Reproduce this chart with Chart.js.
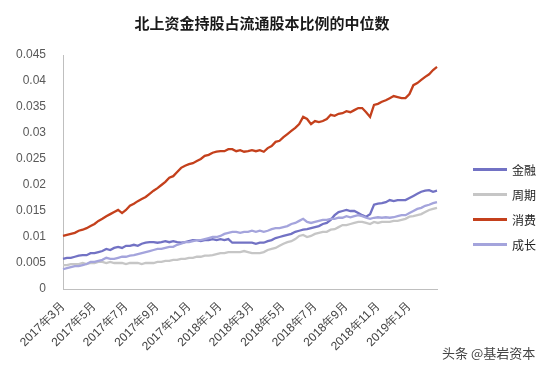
<!DOCTYPE html>
<html>
<head>
<meta charset="utf-8">
<script src="https://cdn.jsdelivr.net/npm/chart.js@4/dist/chart.umd.min.js"></script>
<style>
  html, body { margin: 0; padding: 0; background: #fff; }
  .wrap { position: relative; width: 554px; height: 373px; }
  .title { position: absolute; left: 0; width: 524px; top: 12px; text-align: center; font: bold 15px "Noto Sans CJK SC", sans-serif; color: #1a1a1a; }
  .legend { position: absolute; left: 473px; top: 157px; font: 12px "Noto Sans CJK SC", sans-serif; color: #222; }
  .legend div { height: 25px; display: flex; align-items: center; }
  .legend span.ln { display: inline-block; width: 34px; height: 2.5px; margin-right: 5px; }
  .mark { position: absolute; left: 442px; top: 343px; font: 13px "Noto Sans CJK SC", sans-serif; color: #444; }
</style>
</head>
<body>
<div class="wrap">
  <canvas id="chart" width="554" height="373"></canvas>
  <div class="title">北上资金持股占流通股本比例的中位数</div>
  <div class="legend" id="legend"></div>
  <div class="mark">头条 @基岩资本</div>
</div>
<script>
// one point per week-ish, 4 per month, Mar 2017 .. Feb 2019
const tickLabels = ['2017年3月', '2017年5月', '2017年7月', '2017年9月', '2017年11月', '2018年1月',
  '2018年3月', '2018年5月', '2018年7月', '2018年9月', '2018年11月', '2019年1月'];
const months = ['2017-03', '2017-04', '2017-05', '2017-06', '2017-07', '2017-08', '2017-09', '2017-10',
  '2017-11', '2017-12', '2018-01', '2018-02', '2018-03', '2018-04', '2018-05', '2018-06', '2018-07',
  '2018-08', '2018-09', '2018-10', '2018-11', '2018-12', '2019-01', '2019-02'];
const weeks = ['w1', 'w2', 'w3', 'w4'];

const finance = [
  0.0058, 0.0060, 0.0060, 0.0062, 0.0064, 0.0065, 0.0065, 0.0069, 0.0069, 0.0071, 0.0073, 0.0077,
  0.0075, 0.0079, 0.0081, 0.0079, 0.0083, 0.0083, 0.0085, 0.0083, 0.0087, 0.0089, 0.0090, 0.0090,
  0.0089, 0.0090, 0.0092, 0.0090, 0.0092, 0.0090, 0.0089, 0.0090, 0.0092, 0.0094, 0.0094, 0.0092,
  0.0094, 0.0094, 0.0096, 0.0094, 0.0096, 0.0094, 0.0096, 0.0089, 0.0089, 0.0089, 0.0089, 0.0089,
  0.0089, 0.0087, 0.0089, 0.0089, 0.0092, 0.0094, 0.0098, 0.0100, 0.0102, 0.0104, 0.0106, 0.0110,
  0.0112, 0.0114, 0.0115, 0.0117, 0.0119, 0.0121, 0.0125, 0.0127, 0.0133, 0.0142, 0.0148, 0.0150,
  0.0152, 0.0150, 0.0150, 0.0146, 0.0142, 0.0139, 0.0144, 0.0162, 0.0164, 0.0165, 0.0167, 0.0171,
  0.0169, 0.0171, 0.0171, 0.0171, 0.0175, 0.0179, 0.0183, 0.0187, 0.0189, 0.0190, 0.0187, 0.0189
];
const cyclical = [
  0.0046, 0.0046, 0.0048, 0.0048, 0.0048, 0.0050, 0.0048, 0.0050, 0.0050, 0.0052, 0.0052, 0.0050,
  0.0052, 0.0050, 0.0050, 0.0050, 0.0048, 0.0050, 0.0050, 0.0050, 0.0048, 0.0050, 0.0050, 0.0050,
  0.0052, 0.0052, 0.0054, 0.0054, 0.0056, 0.0056, 0.0058, 0.0058, 0.0060, 0.0060, 0.0062, 0.0062,
  0.0064, 0.0064, 0.0065, 0.0067, 0.0069, 0.0069, 0.0071, 0.0071, 0.0071, 0.0071, 0.0073, 0.0071,
  0.0069, 0.0069, 0.0069, 0.0071, 0.0075, 0.0077, 0.0079, 0.0083, 0.0087, 0.0090, 0.0092, 0.0096,
  0.0102, 0.0104, 0.0100, 0.0102, 0.0106, 0.0108, 0.0110, 0.0110, 0.0114, 0.0115, 0.0119, 0.0123,
  0.0123, 0.0125, 0.0127, 0.0129, 0.0129, 0.0127, 0.0125, 0.0129, 0.0127, 0.0129, 0.0129, 0.0129,
  0.0131, 0.0131, 0.0133, 0.0135, 0.0139, 0.0140, 0.0142, 0.0144, 0.0148, 0.0152, 0.0154, 0.0156
];
const consumer = [
  0.0102, 0.0104, 0.0106, 0.0108, 0.0112, 0.0114, 0.0117, 0.0121, 0.0125, 0.0131, 0.0135, 0.0140,
  0.0144, 0.0148, 0.0152, 0.0146, 0.0152, 0.0160, 0.0164, 0.0169, 0.0173, 0.0177, 0.0183, 0.0189,
  0.0194, 0.0200, 0.0206, 0.0214, 0.0217, 0.0225, 0.0233, 0.0237, 0.0240, 0.0242, 0.0246, 0.0250,
  0.0256, 0.0258, 0.0262, 0.0264, 0.0265, 0.0265, 0.0269, 0.0269, 0.0265, 0.0267, 0.0264, 0.0265,
  0.0267, 0.0265, 0.0267, 0.0264, 0.0271, 0.0275, 0.0283, 0.0285, 0.0292, 0.0298, 0.0304, 0.0310,
  0.0317, 0.0331, 0.0327, 0.0317, 0.0323, 0.0321, 0.0323, 0.0327, 0.0335, 0.0333, 0.0337, 0.0338,
  0.0342, 0.0340, 0.0344, 0.0348, 0.0348, 0.0340, 0.0331, 0.0354, 0.0356, 0.0360, 0.0363, 0.0367,
  0.0371, 0.0369, 0.0367, 0.0367, 0.0375, 0.0392, 0.0396, 0.0402, 0.0408, 0.0413, 0.0421, 0.0427
];
const growth = [
  0.0038, 0.0040, 0.0042, 0.0044, 0.0044, 0.0046, 0.0048, 0.0052, 0.0052, 0.0054, 0.0056, 0.0060,
  0.0058, 0.0058, 0.0060, 0.0062, 0.0062, 0.0064, 0.0065, 0.0067, 0.0069, 0.0071, 0.0073, 0.0075,
  0.0077, 0.0077, 0.0079, 0.0081, 0.0081, 0.0085, 0.0087, 0.0090, 0.0090, 0.0092, 0.0094, 0.0094,
  0.0096, 0.0098, 0.0100, 0.0100, 0.0102, 0.0106, 0.0108, 0.0110, 0.0110, 0.0108, 0.0110, 0.0110,
  0.0112, 0.0110, 0.0112, 0.0110, 0.0112, 0.0115, 0.0117, 0.0117, 0.0119, 0.0121, 0.0125, 0.0127,
  0.0131, 0.0135, 0.0129, 0.0127, 0.0129, 0.0131, 0.0133, 0.0133, 0.0135, 0.0135, 0.0137, 0.0137,
  0.0140, 0.0138, 0.0140, 0.0142, 0.0140, 0.0137, 0.0135, 0.0137, 0.0138, 0.0137, 0.0138, 0.0137,
  0.0138, 0.0140, 0.0142, 0.0142, 0.0146, 0.0150, 0.0154, 0.0156, 0.0160, 0.0162, 0.0165, 0.0167
];

const seriesNames = ['金融', '周期', '消费', '成长'];
const seriesColors = ['#7272C4', '#C6C6C6', '#C4401C', '#A4A4DC'];

const categories = [];
months.forEach(m => weeks.forEach(w => categories.push(m + '-' + w)));

const values = [finance, cyclical, consumer, growth];
// draw order: grey and light lines under the stronger ones
const drawOrder = [3, 1, 2, 0];

const legendEl = document.getElementById('legend');
seriesNames.forEach((name, i) => {
  const row = document.createElement('div');
  row.innerHTML = '<span class="ln" style="background:' + seriesColors[i] + '"></span>' + name;
  legendEl.appendChild(row);
});

new Chart(document.getElementById('chart'), {
  type: 'line',
  data: {
    labels: categories,
    datasets: seriesNames.map((name, i) => ({
      label: name,
      data: values[i],
      borderColor: seriesColors[i],
      borderWidth: 2.3,
      pointRadius: 0,
      tension: 0,
      fill: false,
      order: drawOrder[i]
    }))
  },
  options: {
    responsive: false,
    animation: false,
    layout: { padding: { left: 0, right: 117, top: 55, bottom: 0 } },
    plugins: {
      legend: { display: false },
      tooltip: { enabled: false },
      title: { display: false }
    },
    scales: {
      x: {
        offset: false,
        grid: { display: false },
        border: { color: '#BFBFBF', width: 1 },
        afterFit: s => { s.height = 84; },
        ticks: {
          autoSkip: false,
          maxRotation: 45,
          minRotation: 45,
          padding: 2,
          color: '#404040',
          font: { family: '"Liberation Sans", Arial, sans-serif', size: 12 },
          callback: (v, i) => (i % 8 === 0 ? tickLabels[i / 8] : null)
        }
      },
      y: {
        min: 0,
        max: 0.045,
        grid: { display: false },
        border: { color: '#BFBFBF', width: 1 },
        afterFit: s => { s.width = 63; },
        ticks: {
          stepSize: 0.005,
          padding: 9,
          color: '#595959',
          font: { family: '"Liberation Sans", Arial, sans-serif', size: 12 },
          callback: v => String(+v.toFixed(3))
        }
      }
    }
  }
});
</script>
</body>
</html>
